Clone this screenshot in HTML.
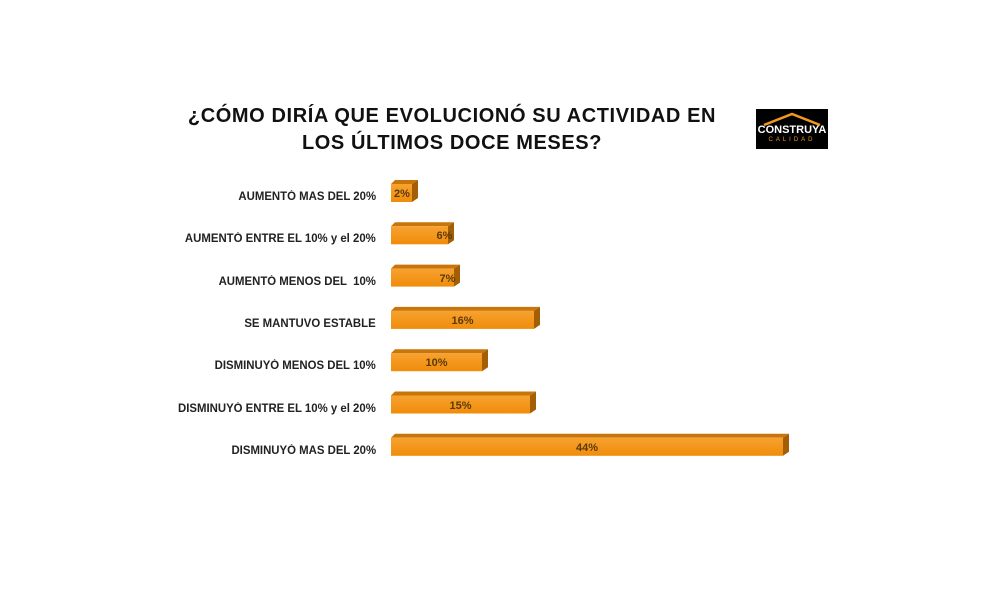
<!DOCTYPE html>
<html><head><meta charset="utf-8"><style>
body{margin:0;background:#fff;width:992px;height:606px;position:relative;overflow:hidden;font-family:"Liberation Sans",sans-serif}
.t{position:absolute;font-weight:bold;font-size:20px;color:#111;text-align:center;width:600px;left:152px;line-height:27px;letter-spacing:0.6px}
.l{position:absolute;right:616px;font-size:11.5px;font-weight:bold;color:#222;white-space:nowrap;transform:scaleX(0.99);transform-origin:right}
.v{position:absolute;font-size:11px;font-weight:bold;color:#5a3a08;text-align:center}
</style></head><body>
<div class="t" style="top:103px">¿CÓMO DIRÍA QUE EVOLUCIONÓ SU ACTIVIDAD EN<br>LOS ÚLTIMOS DOCE MESES?</div>
<div style="position:absolute;left:756px;top:109px;width:72px;height:40px;background:#000">
<svg width="72" height="40" style="position:absolute;left:0;top:0"><polyline points="8,16 36,5 64,16" fill="none" stroke="#f39a1e" stroke-width="2.5"/></svg>
<div style="position:absolute;top:15px;width:72px;text-align:center;color:#fff;font-weight:bold;font-size:11px">CONSTRUYA</div>
<div style="position:absolute;top:28px;width:72px;text-align:center;color:#f39a1e;font-size:6px;letter-spacing:3px">CALIDAD</div>
</div>
<svg width="992" height="606" style="position:absolute;left:0;top:0">
<defs><linearGradient id="g" x1="0" y1="0" x2="0" y2="1"><stop offset="0" stop-color="#f7a230"/><stop offset="1" stop-color="#f08c0a"/></linearGradient></defs>
<g id="bars"></g>
</svg>
<div id="lab"></div>
<script>
var d=[["AUMENTÓ MAS DEL 20%",2,412],["AUMENTÓ ENTRE EL 10% y el 20%",6,448],["AUMENTÓ MENOS DEL  10%",7,454],["SE MANTUVO ESTABLE",16,534],["DISMINUYÓ MENOS DEL 10%",10,482],["DISMINUYÓ ENTRE EL 10% y el 20%",15,530],["DISMINUYÓ MAS DEL 20%",44,783]];
var s="",h="";
d.forEach(function(r,i){var c=193+i*42.3,y=c-9,x=391,e=r[2];
s+='<polygon points="'+x+','+y+' '+(x+4)+','+(y-4)+' '+(e+6)+','+(y-4)+' '+e+','+y+'" fill="#c8760a"/>';
s+='<polygon points="'+e+','+y+' '+(e+6)+','+(y-4)+' '+(e+6)+','+(y+14)+' '+e+','+(y+18)+'" fill="#a35e06"/>';
s+='<rect x="'+x+'" y="'+y+'" width="'+(e-x)+'" height="18" fill="url(#g)"/>';
h+='<div class="l" style="top:'+(c-2)+'px">'+r[0].replace(/  /g,' &nbsp;')+'</div>';
var cx=(i==0)?402:(x+e)/2+(i==1||i==2?25:0);
h+='<div class="v" style="left:'+(cx-20)+'px;width:40px;top:'+(c-5)+'px">'+r[1]+'%</div>';});
document.getElementById("bars").innerHTML=s;document.getElementById("lab").innerHTML=h;
</script>
</body></html>
